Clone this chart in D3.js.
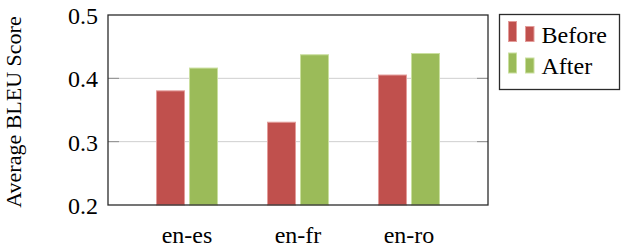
<!DOCTYPE html>
<html lang="en">
    <head>
        <meta charset="utf-8">
        <title>Average BLEU Score</title>
        <script type="text/javascript" src="https://cdn.jsdelivr.net/npm/d3@7/dist/d3.min.js"></script>
    </head>

    <style>
        body { margin: 0; background: white; }
    </style>

    <body>
        <script type="text/javascript">

            // Data
            var pairs = ["en-es", "en-fr", "en-ro"];
            var before = [0.381, 0.3315, 0.406];
            var after = [0.417, 0.438, 0.44];
            var seriesNames = ["Before", "After"];
            var yTicks = [0.2, 0.3, 0.4, 0.5];

            // plot area (note: "top" is taken by window.top, so use other names)
            var w = 622, h = 248;
            var plotL = 108, plotR = 488, plotT = 15, plotB = 205;
            var serif = "'Liberation Serif', 'Times New Roman', serif";

            var fills = { "Before": "#c0504d", "After": "#9bbb59" };
            var edges = { "Before": "#e39c9a", "After": "#cadf9f" };

            var svg = d3.select("body").append("svg").attr("width", w).attr("height", h)
                .attr("font-family", serif);

            // Scales
            var x = d3.scalePoint().domain(pairs).range([plotL, plotR]).padding(0.712);
            var xSub = d3.scaleBand().domain(seriesNames).range([-31, 31]).paddingInner(4 / 33);
            var y = d3.scaleLinear().domain([0.2, 0.5]).range([plotB, plotT]);

            // Grid lines (under the bars)
            svg.append("g").selectAll("line").data(yTicks.slice(1, 3)).enter().append("line")
                .attr("x1", plotL).attr("x2", plotR)
                .attr("y1", function(d) { return y(d); })
                .attr("y2", function(d) { return y(d); })
                .attr("stroke", "#cfcfcf").attr("stroke-width", 1);

            // Bars
            var rows = pairs.map(function(p, i) {
                return [{ pair: p, s: "Before", v: before[i] }, { pair: p, s: "After", v: after[i] }];
            });
            var bars = [].concat.apply([], rows);

            svg.append("g").selectAll("rect").data(bars).enter().append("rect")
                .attr("x", function(d) { return x(d.pair) + xSub(d.s) + 0.5; })
                .attr("y", function(d) { return y(d.v) + 0.5; })
                .attr("width", xSub.bandwidth() - 1)
                .attr("height", function(d) { return plotB - y(d.v) - 0.5; })
                .attr("fill", function(d) { return fills[d.s]; })
                .attr("stroke", function(d) { return edges[d.s]; })
                .attr("stroke-width", 1);

            // Tick marks inside the frame, left and right
            var ticks = svg.append("g").attr("stroke", "#8c8c8c").attr("stroke-width", 1);
            yTicks.slice(1, 3).forEach(function(t) {
                ticks.append("line").attr("x1", plotL).attr("x2", plotL + 11).attr("y1", y(t)).attr("y2", y(t));
                ticks.append("line").attr("x1", plotR - 11).attr("x2", plotR).attr("y1", y(t)).attr("y2", y(t));
            });

            // Frame
            svg.append("rect")
                .attr("x", plotL).attr("y", plotT)
                .attr("width", plotR - plotL).attr("height", plotB - plotT)
                .attr("fill", "none").attr("stroke", "#2b2b2b").attr("stroke-width", 1.3);

            // Y tick labels
            svg.append("g").selectAll("text").data(yTicks).enter().append("text")
                .attr("x", 98)
                .attr("y", function(d) { return y(d) + 9; })
                .attr("text-anchor", "end")
                .attr("font-size", 24)
                .text(function(d) { return d3.format(".1f")(d); });

            // X labels (kept just inside the bottom edge)
            svg.append("g").selectAll("text").data(pairs).enter().append("text")
                .attr("x", function(d) { return x(d); })
                .attr("y", 242.5)
                .attr("text-anchor", "middle")
                .attr("font-size", 24)
                .text(function(d) { return d; });

            // Y axis title (kept inside the left edge)
            svg.append("text")
                .attr("transform", "translate(21,112) rotate(-90)")
                .attr("text-anchor", "middle")
                .attr("font-size", 22)
                .text("Average BLEU Score");

            // Legend
            var legend = svg.append("g");
            legend.append("rect")
                .attr("x", 499.5).attr("y", 14.5).attr("width", 120).attr("height", 75)
                .attr("fill", "white").attr("stroke", "#2b2b2b").attr("stroke-width", 1.3);

            var entries = legend.selectAll("g.entry").data(seriesNames).enter().append("g")
                .attr("transform", function(d, i) { return "translate(0," + (i * 31.5) + ")"; });
            entries.append("rect")
                .attr("x", 508.5).attr("y", 21.5).attr("width", 8).attr("height", 20)
                .attr("fill", function(d) { return fills[d]; })
                .attr("stroke", function(d) { return edges[d]; });
            entries.append("rect")
                .attr("x", 525.5).attr("y", 26.5).attr("width", 8.5).attr("height", 15)
                .attr("fill", function(d) { return fills[d]; })
                .attr("stroke", function(d) { return edges[d]; });
            entries.append("text")
                .attr("x", 541.5).attr("y", 42.5)
                .attr("font-size", 24)
                .text(function(d) { return d; });

        </script>
    </body>
</html>
